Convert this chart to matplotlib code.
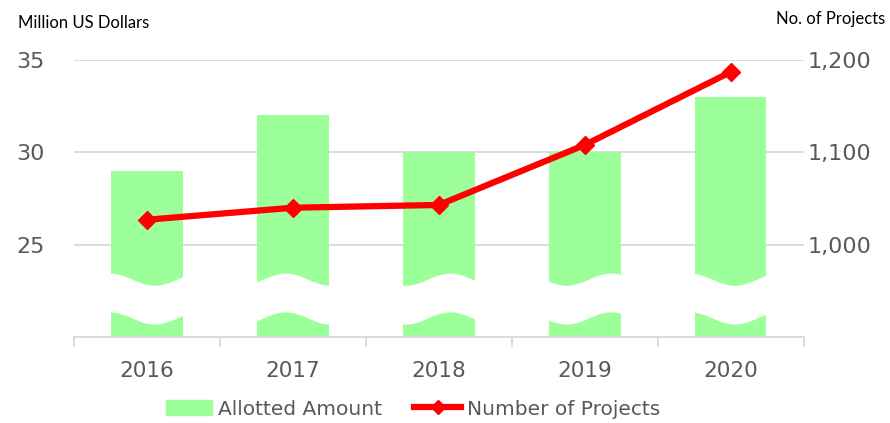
import numpy as np
import matplotlib
matplotlib.use("Agg")
import matplotlib.pyplot as plt
from matplotlib.ticker import FuncFormatter, FixedLocator
from matplotlib.patches import Patch
from matplotlib.lines import Line2D

# 資料
years = ["2016", "2017", "2018", "2019", "2020"]
allotted = [29, 32, 30, 30, 33]          # Million US Dollars
projects = [1027, 1040, 1043, 1108, 1187]  # No. of Projects

# 波浪斷軸的相位 (樣式用)
wave_phase = [0.0, 0.4, 0.65, 0.25, 0.55]
wave_sign = [1, 1, 1, -1, -1]

bar_color = "#9CFF9A"
grid_color = "#D9D9D9"
text_color = "#595959"
tick_font = "DejaVu Sans"

fig = plt.figure(figsize=(8.9, 4.23), dpi=100)
ax = fig.add_axes([0.0831, 0.2033, 0.8199, 0.6549])
ax2 = ax.twinx()

x = np.arange(len(years))
bw = 0.49
ax.bar(x, allotted, width=bw, color=bar_color, lw=0, zorder=2)

# 白色波浪帶 (斷軸效果)
t = np.linspace(0, 1, 60)
for i in range(len(years)):
    wave = 23.13 + wave_sign[i] * 0.33 * np.cos(2 * np.pi * (t - wave_phase[i]) / 1.2)
    xs = x[i] - bw / 2 - 0.01 + t * (bw + 0.02)
    ax.fill_between(xs, wave - 2.1, wave, color="white", lw=0, zorder=3)

ax2.plot(x, projects, color="#FF0000", lw=4.5, marker="D", ms=9,
         solid_joinstyle="round", zorder=5)

ax.set_xlim(-0.5, len(years) - 0.5)
ax.set_ylim(20, 35)
ax2.set_ylim(900, 1200)
ax.set_yticks([25, 30, 35])
ax2.set_yticks([1000, 1100, 1200])
ax2.yaxis.set_major_formatter(FuncFormatter(lambda v, p: f"{int(v):,}"))

ax.set_axisbelow(True)
ax.grid(axis="y", color=grid_color, lw=1.3, zorder=0)
for a in (ax, ax2):
    for s in ("top", "left", "right", "bottom"):
        a.spines[s].set_visible(False)
ax.spines["bottom"].set_visible(True)
ax.spines["bottom"].set_color(grid_color)
ax.spines["bottom"].set_linewidth(1.3)

ax.set_xticks(x)
ax.set_xticklabels(years)
ax.xaxis.set_minor_locator(FixedLocator(np.arange(-0.5, len(years), 1.0)))
ax.tick_params(axis="x", which="major", length=0, pad=17, labelsize=15.5,
               labelcolor=text_color)
ax.tick_params(axis="x", which="minor", length=7, width=1.3, color=grid_color)
ax.tick_params(axis="y", length=0, pad=21, labelsize=16, labelcolor=text_color)
ax2.tick_params(axis="y", length=0, pad=3, labelsize=16, labelcolor=text_color)
for lab in ax.get_xticklabels() + ax.get_yticklabels() + ax2.get_yticklabels():
    lab.set_family(tick_font)

fig.text(0.02, 0.945, "Million US Dollars", fontsize=12, family="Lato",
         color="black", va="center")
fig.text(0.995, 0.955, "No. of Projects", fontsize=12, family="Lato",
         color="black", va="center", ha="right")

handles = [Patch(color=bar_color),
           Line2D([], [], color="#FF0000", lw=4.5, marker="D", ms=7)]
leg = fig.legend(handles, ["Allotted Amount", "Number of Projects"],
                 loc="center", bbox_to_anchor=(0.464, 0.033), ncol=2,
                 frameon=False, handlelength=2.3,
                 handletextpad=0.3, columnspacing=1.6,
                 prop={"family": tick_font, "size": 14.5})
for txt in leg.get_texts():
    txt.set_color(text_color)

fig.savefig("out.png", dpi=100)
